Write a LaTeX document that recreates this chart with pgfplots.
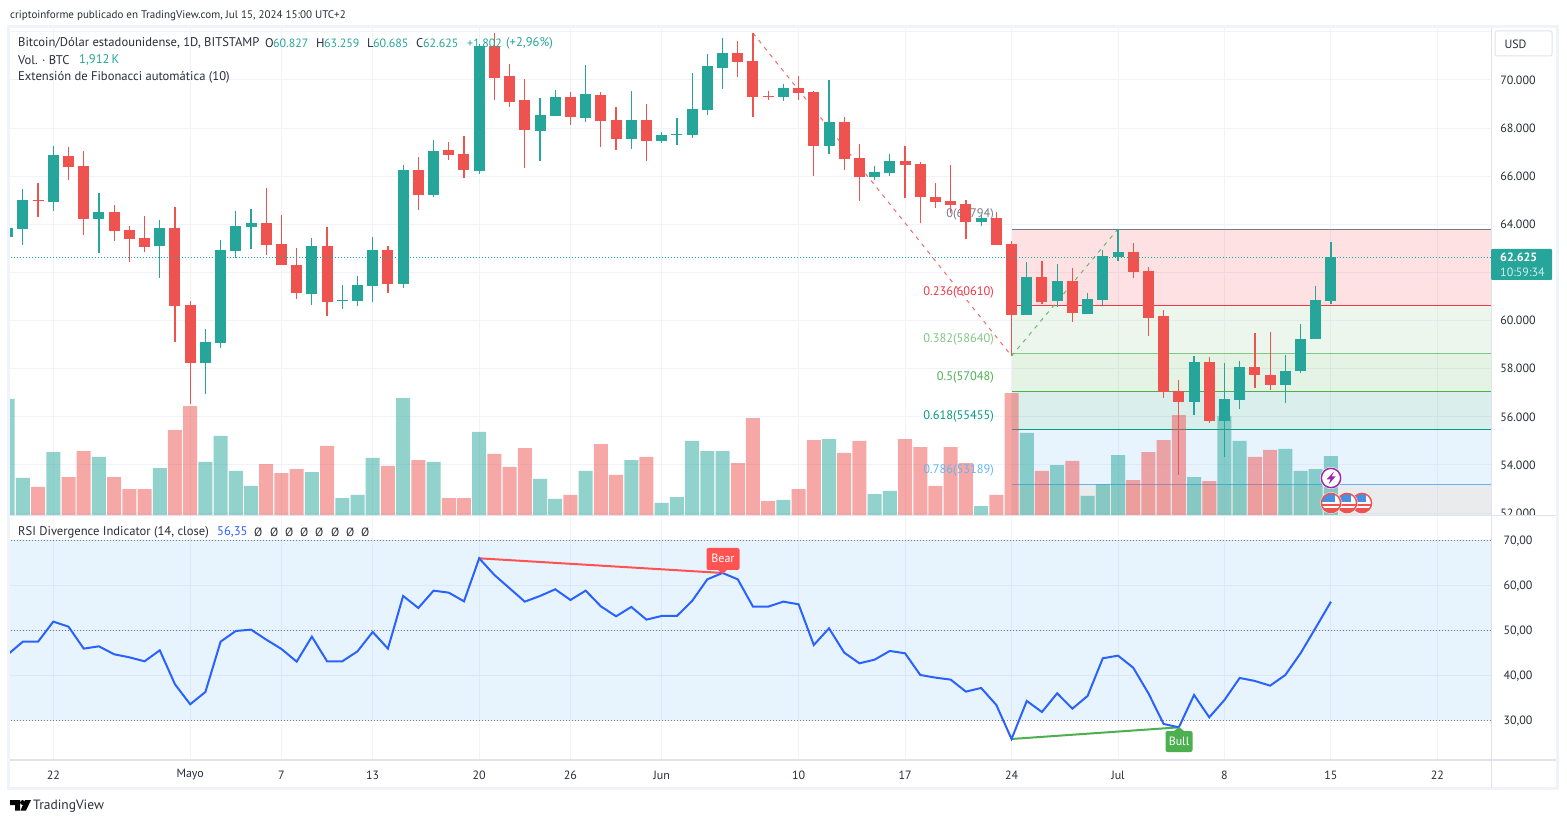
\documentclass[border=0pt]{standalone}
\usepackage{fontspec}
\setmainfont{PT Sans}
\usepackage{pgfplots}
\usepackage{pgfplotstable}
\pgfplotsset{compat=1.18}
\definecolor{up}{HTML}{26A69A}
\definecolor{dn}{HTML}{EF5350}
\definecolor{txt}{HTML}{2A2E39}
\definecolor{gridc}{HTML}{F0F3FA}
\definecolor{sep}{HTML}{E0E3EB}
\definecolor{rsi}{HTML}{2962FF}
\definecolor{frame}{HTML}{F0F3FA}
\definecolor{fibgray}{HTML}{787B86}
\definecolor{fibred}{HTML}{F23645}
\definecolor{fibgA}{HTML}{81C784}
\definecolor{fibgB}{HTML}{4CAF50}
\definecolor{fibt}{HTML}{089981}
\definecolor{fibb}{HTML}{64B5F6}
\definecolor{rsifill}{HTML}{2196F3}
\definecolor{bearc}{HTML}{FF5252}
\definecolor{purp}{HTML}{9C27B0}
\definecolor{flagblue}{HTML}{4A90E2}
\newcommand{\fs}{\fontsize{12}{14}\selectfont}
\newcommand{\fl}{\fontsize{12.6}{14}\selectfont}
% thousands of USD; volume in thousands of BTC
\pgfplotstableread{
d high top bot low vol
-3 63.90 63.86 63.48 63.40 3.76
-2 65.47 65.01 63.81 63.14 1.20
0 67.26 66.88 64.93 64.56 2.04
3 65.30 64.51 64.22 62.81 1.88
7 64.18 63.85 63.10 61.77 1.52
10 59.65 59.11 58.24 56.95 1.72
11 63.35 62.93 59.07 58.86 2.56
12 64.56 63.93 62.89 62.60 1.43
13 64.64 64.06 63.89 62.98 0.94
17 63.43 63.10 61.11 60.65 1.39
19 61.48 60.86 60.81 60.48 0.55
20 61.85 61.48 60.81 60.61 0.65
21 63.47 62.93 61.44 60.77 1.85
23 66.47 66.26 61.52 61.35 3.79
25 67.51 67.05 65.22 65.14 1.72
28 71.50 71.41 66.22 66.09 2.69
32 69.25 68.55 67.88 66.63 1.17
33 69.58 69.29 68.50 68.50 0.52
35 70.62 69.42 68.42 68.25 1.43
38 69.54 68.34 67.55 67.13 1.78
40 67.84 67.71 67.46 67.38 0.39
41 68.42 67.76 67.71 67.30 0.58
42 70.29 68.79 67.71 67.59 2.40
43 71.08 70.58 68.75 68.55 2.07
44 71.75 71.12 70.50 69.63 2.07
48 69.83 69.67 69.29 69.13 0.49
51 70.00 68.25 67.26 66.92 2.46
54 66.43 66.18 65.97 65.84 0.68
55 66.92 66.63 66.13 66.01 0.78
61 64.38 64.26 64.10 63.93 0.29
64 62.44 61.81 60.23 60.23 2.66
66 62.35 61.65 60.81 60.57 1.62
68 61.15 60.90 60.27 60.27 0.62
69 62.93 62.68 60.86 60.65 0.99
70 63.81 62.85 62.64 62.48 1.94
75 58.53 58.28 56.62 56.08 1.23
77 58.24 56.74 55.83 54.33 3.21
78 58.32 58.07 56.70 56.33 2.40
81 58.57 57.91 57.32 56.58 2.14
82 59.86 59.24 57.91 57.82 1.43
83 61.44 60.86 59.24 59.24 1.49
84 63.27 62.64 60.81 60.69 1.91
}\upT
\pgfplotstableread{
d high top bot low vol
-1 65.72 65.01 64.97 64.31 0.91
1 67.22 66.84 66.38 65.84 1.23
2 67.05 66.43 64.22 63.56 2.07
4 64.80 64.51 63.72 63.31 1.23
5 63.93 63.77 63.39 62.44 0.84
6 64.35 63.43 63.06 62.85 0.84
8 64.72 63.85 60.61 59.11 2.75
9 60.81 60.65 58.24 56.53 3.53
14 65.51 64.06 63.14 62.73 1.65
15 64.39 63.18 62.31 62.31 1.36
16 63.02 62.31 61.15 60.90 1.49
18 63.89 63.10 60.77 60.19 2.24
22 63.10 62.93 61.52 61.15 1.59
24 66.80 66.26 65.22 64.60 1.78
26 67.42 67.09 66.88 66.67 0.55
27 67.67 66.92 66.26 65.93 0.55
29 71.95 71.41 70.08 69.17 1.98
30 70.67 70.17 69.09 68.88 1.56
31 70.04 69.17 67.92 66.34 2.17
34 69.50 69.29 68.46 68.13 0.65
36 69.50 69.38 68.30 67.22 2.30
37 68.88 68.34 67.55 67.09 1.30
39 69.00 68.34 67.46 66.63 1.88
45 71.62 71.12 70.75 70.13 1.68
46 71.95 70.79 69.29 68.46 3.14
47 69.54 69.34 69.29 69.17 0.45
49 70.17 69.67 69.46 69.17 0.84
50 69.54 69.50 67.26 66.01 2.43
52 68.46 68.25 66.72 66.26 2.01
53 67.34 66.76 65.97 64.97 2.40
56 67.25 66.63 66.47 65.10 2.46
57 66.59 66.51 65.14 64.06 2.20
58 65.72 65.14 64.93 64.68 0.94
59 66.47 64.97 64.80 64.46 2.20
60 65.01 64.85 64.10 63.39 1.68
62 64.51 64.26 63.14 63.14 0.65
63 63.31 63.18 60.23 58.53 3.95
65 62.48 61.81 60.77 60.69 1.43
67 62.19 61.65 60.32 59.94 1.75
71 63.22 62.85 62.02 61.77 1.13
72 62.23 62.06 60.11 59.36 2.04
73 60.44 60.19 57.03 56.78 2.43
74 57.53 57.07 56.62 53.58 3.24
76 58.49 58.28 55.83 55.74 1.10
79 59.48 58.07 57.74 57.20 1.88
80 59.53 57.74 57.32 57.12 2.11
}\dnT
\pgfplotstableread{
d r
-3 44.60
-2 47.48
-1 47.48
0 51.93
1 50.81
2 45.93
3 46.44
4 44.67
5 44.00
6 43.11
7 45.56
8 38.00
9 33.56
10 36.30
11 47.48
12 49.85
13 50.15
14 47.93
15 45.85
16 43.04
17 48.59
18 43.11
19 43.11
20 45.33
21 49.63
22 45.93
23 57.63
24 54.96
25 58.81
26 58.37
27 56.44
28 66.00
29 62.30
30 59.33
31 56.37
32 57.63
33 59.11
34 56.74
35 58.81
36 55.33
37 53.11
38 55.19
39 52.37
40 53.19
41 53.19
42 56.52
43 61.33
44 62.74
45 61.33
46 55.26
47 55.26
48 56.37
49 55.78
50 46.74
51 50.44
52 45.04
53 42.67
54 43.48
55 45.41
56 44.89
57 40.07
58 39.48
59 39.04
60 36.37
61 37.19
62 33.41
63 25.85
64 34.30
65 31.85
66 36.00
67 32.59
68 35.41
69 43.78
70 44.37
71 41.70
72 36.00
73 29.19
74 28.44
75 35.63
76 30.67
77 34.52
78 39.41
79 38.74
80 37.70
81 40.07
82 44.89
83 50.59
84 56.35
}\rsiT
\pgfplotsset{
  pane/.style={scale only axis, xmin=-2.847, xmax=94.52,
    axis line style={draw=none}, major tick length=0pt,
    tick label style={font=\fs, text=txt}},
  priceaxis/.style={pane, at={(10pt,308pt)}, anchor=south west, width=1481pt, height=487pt,
    ymin=51.92, ymax=72.161},
  band/.style={fill=#1, fill opacity=0.15, draw=none, forget plot},
  wick/.style={draw=none, mark=none, forget plot,
    error bars/.cd, y dir=minus, y explicit, error mark=none,
    error bar style={line width=1.2pt, color=#1}},
  body/.style={draw=none, mark=none, forget plot,
    error bars/.cd, y dir=minus, y explicit, error mark=none,
    error bar style={line width=11pt, color=#1}},
}
\newcommand{\usflag}[2]{%
  \fill[white] (#1,#2) circle (10.8);
  \begin{scope}
    \clip (#1,#2) circle (9.4);
    \fill[white] (#1-10,#2-10) rectangle (#1+10,#2+10);
    \fill[dn] (#1-10,#2+1) rectangle (#1+10,#2+3);
    \fill[dn] (#1-10,#2+5) rectangle (#1+10,#2+10);
    \fill[flagblue] (#1-10,#2-10) rectangle (#1+4,#2-0.5);
  \end{scope}
  \draw[dn, line width=1.5pt] (#1,#2) circle (9.6);
}
\begin{document}
\begin{tikzpicture}
\useasboundingbox (0pt,0pt) rectangle (1567pt,823pt);
\fill[white] (0pt,0pt) rectangle (1567pt,823pt);

% --- grid, Fibonacci zones and level labels
\begin{axis}[priceaxis,
    clip=true,
    grid=major, grid style={gridc, line width=1pt},
    xtick={0,9,15,21,28,34,40,49,56,63,70,77,84,91}, xticklabels={},
    ytick={52,54,...,72},
    yticklabels={52.000,54.000,56.000,58.000,60.000,{},64.000,66.000,68.000,70.000,{}},
    yticklabel pos=right,
    yticklabel style={anchor=center, xshift=27pt}]
  \addplot[band=fibred] coordinates {(63,63.794)(95,63.794)(95,60.610)(63,60.610)} --cycle;
  \addplot[band=fibgA] coordinates {(63,60.610)(95,60.610)(95,58.640)(63,58.640)} --cycle;
  \addplot[band=fibgB] coordinates {(63,58.640)(95,58.640)(95,57.048)(63,57.048)} --cycle;
  \addplot[band=fibt] coordinates {(63,57.048)(95,57.048)(95,55.455)(63,55.455)} --cycle;
  \addplot[band=fibb] coordinates {(63,55.455)(95,55.455)(95,53.189)(63,53.189)} --cycle;
  \addplot[band=fibgray] coordinates {(63,53.189)(95,53.189)(95,51.000)(63,51.000)} --cycle;
  \addplot[fibgray, line width=1pt, forget plot] coordinates {(63,63.794)(95,63.794)};
  \addplot[fibred, line width=1pt, forget plot] coordinates {(63,60.610)(95,60.610)};
  \addplot[fibgA, line width=1pt, forget plot] coordinates {(63,58.640)(95,58.640)};
  \addplot[fibgB, line width=1pt, forget plot] coordinates {(63,57.048)(95,57.048)};
  \addplot[fibt, line width=1pt, forget plot] coordinates {(63,55.455)(95,55.455)};
  \addplot[fibb, line width=1pt, forget plot] coordinates {(63,53.189)(95,53.189)};
\end{axis}

% --- volume
\begin{axis}[pane, at={(10pt,308pt)}, anchor=south west, width=1481pt, height=487pt,
    hide axis, ymin=0, ymax=15.78]
  \addplot[ybar, bar width=14pt, bar shift=0pt, fill=up, draw=none, fill opacity=0.5, forget plot] table[x=d,y=vol] {\upT};
  \addplot[ybar, bar width=14pt, bar shift=0pt, fill=dn, draw=none, fill opacity=0.5, forget plot] table[x=d,y=vol] {\dnT};
\end{axis}

% --- candles
\begin{axis}[priceaxis, hide axis]
  \node[anchor=east, inner sep=0pt, font=\fontsize{12.4}{14}\selectfont, text=fibgray] at (axis cs:61.85,64.42) {0(63794)};
  \node[anchor=east, inner sep=0pt, font=\fontsize{12.4}{14}\selectfont, text=fibred] at (axis cs:61.85,61.17) {0.236(60610)};
  \node[anchor=east, inner sep=0pt, font=\fontsize{12.4}{14}\selectfont, text=fibgA] at (axis cs:61.85,59.22) {0.382(58640)};
  \node[anchor=east, inner sep=0pt, font=\fontsize{12.4}{14}\selectfont, text=fibgB] at (axis cs:61.85,57.63) {0.5(57048)};
  \node[anchor=east, inner sep=0pt, font=\fontsize{12.4}{14}\selectfont, text=fibt] at (axis cs:61.85,56.03) {0.618(55455)};
  \node[anchor=east, inner sep=0pt, font=\fontsize{12.4}{14}\selectfont, text=fibb] at (axis cs:61.85,53.77) {0.786(53189)};
  \addplot[dn!85!white, line width=1pt, dash pattern=on 4pt off 5pt, forget plot] coordinates {(46,71.95)(63,58.53)};
  \addplot[fibgB!85!white, line width=1pt, dash pattern=on 4pt off 5pt, forget plot] coordinates {(63,58.53)(70,63.81)};
  \addplot[wick=up] table[x=d,y=high,y error expr=\thisrow{high}-\thisrow{low}] {\upT};
  \addplot[wick=dn] table[x=d,y=high,y error expr=\thisrow{high}-\thisrow{low}] {\dnT};
  \addplot[body=up] table[x=d,y=top,y error expr=\thisrow{top}-\thisrow{bot}] {\upT};
  \addplot[body=dn] table[x=d,y=top,y error expr=\thisrow{top}-\thisrow{bot}] {\dnT};
  \addplot[up, line width=1pt, dash pattern=on 1pt off 2pt, forget plot] coordinates {(-3,62.625)(95,62.625)};
\end{axis}

% cover the lower half of the clipped 52.000 label
\fill[white] (1492pt,0pt) rectangle (1556pt,307.5pt);

% --- RSI
\begin{axis}[pane, at={(10pt,63pt)}, anchor=south west, width=1481pt, height=244pt,
    ymin=21.18, ymax=75.4,
    grid=major, grid style={gridc, line width=1pt},
    xtick={0,9,15,21,28,34,40,49,56,63,70,77,84,91},
    xticklabels={22,Mayo,7,13,20,26,Jun,10,17,24,Jul,8,15,22},
    xticklabel style={anchor=center, yshift=-15pt},
    ytick={30,40,50,60,70},
    yticklabels={{30,00},{40,00},{50,00},{60,00},{70,00}},
    yticklabel pos=right,
    yticklabel style={anchor=center, xshift=27pt, yshift=-0.6pt}]
  \addplot[fill=rsifill, fill opacity=0.10, draw=none, forget plot] coordinates {(-3,30)(95,30)(95,70)(-3,70)} --cycle;
  \addplot[fibgray, line width=1pt, dash pattern=on 1pt off 2pt, forget plot] coordinates {(-3,70)(95,70)};
  \addplot[fibgray, line width=1pt, dash pattern=on 1pt off 2pt, forget plot] coordinates {(-3,50)(95,50)};
  \addplot[fibgray, line width=1pt, dash pattern=on 1pt off 2pt, forget plot] coordinates {(-3,30)(95,30)};
  \addplot[bearc, line width=2pt, forget plot] coordinates {(28,66.0)(44,62.74)};
  \addplot[fibgB, line width=2pt, forget plot] coordinates {(63,25.85)(74,28.44)};
  \addplot[rsi, line width=2pt, forget plot] table[x=d,y=r] {\rsiT};
\end{axis}

% --- chrome and labels in pixel coordinates
\begin{scope}[x=1pt, y=-1pt, yshift=823pt]
  % frame
  \draw[frame, line width=3pt] (8.5,27) rectangle (1557,788);
  \draw[sep, line width=1pt] (1491,28) -- (1491,788);
  \draw[sep, line width=1.2pt] (10,515.5) -- (1556,515.5);
  \draw[sep, line width=1.2pt] (10,760) -- (1556,760);

  % signal labels
  \fill[bearc, rounded corners=2pt] (706.5,548) rectangle (739.5,570);
  \fill[bearc] (718,570) -- (727,570) -- (722.6,574) -- cycle;
  \node[text=white, font=\fs] at (723,558.5) {Bear};
  \fill[fibgB, rounded corners=2pt] (1165.5,731) rectangle (1192.5,752);
  \fill[fibgB] (1174,731) -- (1184,731) -- (1179,727) -- cycle;
  \node[text=white, font=\fs] at (1179,741) {Bull};

  % event icons
  \usflag{1362}{503}
  \usflag{1347}{503}
  \usflag{1331}{503}
  \fill[white] (1331,478) circle (11);
  \draw[purp, line width=1.5pt] (1331,478) circle (9.7);
  \fill[purp] (1334,471.5) -- (1326.5,479.5) -- (1330.5,479.5) -- (1328.5,484.5) -- (1335.5,476.5) -- (1331.5,476.5) -- cycle;

  % last price tag
  \fill[up, rounded corners=1pt] (1491,249) rectangle (1552,280);
  \node[text=white, font=\fs\bfseries, anchor=west, inner sep=0pt] at (1500,257.5) {62.625};
  \node[text=white!80!up, font=\fs, anchor=west, inner sep=0pt] at (1500,272) {10:59:34};

  % currency box
  \fill[white] (1495,31) rectangle (1552,56);
  \draw[sep, line width=1pt, rounded corners=2pt] (1495,31) rectangle (1552,56);
  \node[text=txt, font=\fs, anchor=west] at (1501,44) {USD};

  % header
  \node[text=txt, font=\fontsize{11.05}{14}\selectfont, anchor=west, inner sep=0pt] at (10,15.5) {criptoinforme publicado en TradingView.com, Jul 15, 2024 15:00 UTC+2};

  % legend
  \node[text=txt, font=\fl, anchor=west, inner sep=0pt] at (18,43.2) {Bitcoin/Dólar estadounidense, 1D, BITSTAMP};
  \node[text=txt, font=\fl, anchor=west, inner sep=0pt] at (265,43.2) {O};
  \node[text=up, font=\fs, anchor=west, inner sep=0pt] at (273,43.2) {60.827};
  \node[text=txt, font=\fl, anchor=west, inner sep=0pt] at (316,43.2) {H};
  \node[text=up, font=\fs, anchor=west, inner sep=0pt] at (324,43.2) {63.259};
  \node[text=txt, font=\fl, anchor=west, inner sep=0pt] at (367,43.2) {L};
  \node[text=up, font=\fs, anchor=west, inner sep=0pt] at (373,43.2) {60.685};
  \node[text=txt, font=\fl, anchor=west, inner sep=0pt] at (416,43.2) {C};
  \node[text=up, font=\fs, anchor=west, inner sep=0pt] at (423,43.2) {62.625};
  \node[text=up, font=\fs, anchor=west, inner sep=0pt] at (467,43.2) {+1.802};
  \node[text=up, font=\fl, anchor=west, inner sep=0pt] at (506,43.2) {(+2,96\%)};
  \node[text=txt, font=\fl, anchor=west, inner sep=0pt] at (18,60) {Vol. · BTC};
  \node[text=up, font=\fl, anchor=west, inner sep=0pt] at (79,60) {1,912\,K};
  \node[text=txt, font=\fl, anchor=west, inner sep=0pt] at (18,77.2) {Extensión de Fibonacci automática (10)};
  \node[text=txt, font=\fl, anchor=west, inner sep=0pt] at (18,532.2) {RSI Divergence Indicator (14, close)};
  \node[text=rsi, font=\fl, anchor=west, inner sep=0pt] at (217,532.2) {56,35};
  \foreach \x in {254,270,285,300,315,331,346,361}
    \node[text=txt, font=\fs, anchor=west, inner sep=0pt] at (\x,532.2) {Ø};

  % footer logo
  \fill[black] (10,800) -- (20,800) -- (20,810.5) -- (15,810.5) -- (15,805) -- (10,805) -- cycle;
  \fill[black] (22.5,802.5) circle (2.4);
  \fill[black] (25,800) -- (31,800) -- (26,810.5) -- (20.5,810.5) -- cycle;
  \node[text=txt, font=\fontsize{13.5}{15}\selectfont, anchor=west, inner sep=0pt] at (33,806) {TradingView};
\end{scope}
\end{tikzpicture}
\end{document}
